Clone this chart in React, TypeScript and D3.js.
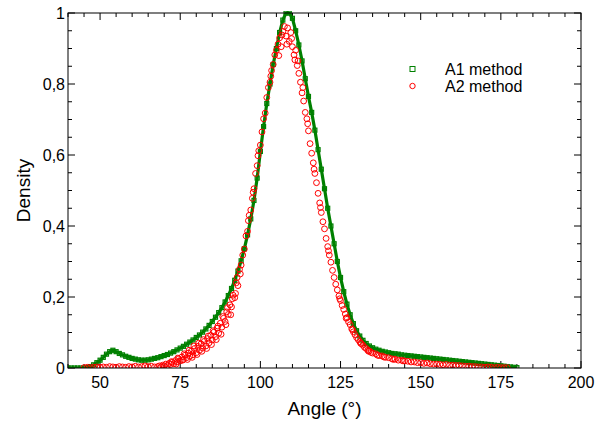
import React from "react";
import * as d3 from "d3";

const xTicks = [50, 75, 100, 125, 150, 175, 200];
const yTicks = [0, 0.2, 0.4, 0.6, 0.8, 1];
const yTickLabels = ["0", "0,2", "0,4", "0,6", "0,8", "1"];
const seriesNames = ["A1 method", "A2 method"];

// A1 method (green line with square markers)
const a1Angle = [
  40, 41, 42, 43, 44, 45, 46, 47, 48, 49, 50, 51, 52, 53, 54, 55, 56, 57, 58, 59,
  60, 61, 62, 63, 64, 65, 66, 67, 68, 69, 70, 71, 72, 73, 74, 75, 76, 77, 78, 79,
  80, 81, 82, 83, 84, 85, 86, 87, 88, 89, 90, 91, 92, 93, 94, 95, 96, 97, 98, 99,
  100, 101, 102, 103, 104, 105, 106, 107, 108, 109, 110, 111, 112, 113, 114, 115, 116, 117, 118, 119,
  120, 121, 122, 123, 124, 125, 126, 127, 128, 129, 130, 131, 132, 133, 134, 135, 136, 137, 138, 139,
  140, 141, 142, 143, 144, 145, 146, 147, 148, 149, 150, 151, 152, 153, 154, 155, 156, 157, 158, 159,
  160, 161, 162, 163, 164, 165, 166, 167, 168, 169, 170, 171, 172, 173, 174, 175, 176, 177, 178, 179, 180,
];
const a1Density = [
  0, 0, 0, 0, 0, 0, 0.001, 0.004, 0.009, 0.015, 0.022, 0.030, 0.039, 0.046, 0.050, 0.046, 0.041, 0.037, 0.033, 0.030,
  0.027, 0.025, 0.023, 0.022, 0.022, 0.023, 0.025, 0.027, 0.029, 0.032, 0.035, 0.038, 0.042, 0.046, 0.051, 0.056, 0.061, 0.067, 0.073, 0.079,
  0.086, 0.093, 0.101, 0.110, 0.120, 0.131, 0.143, 0.156, 0.170, 0.186, 0.204, 0.224, 0.247, 0.273, 0.302, 0.336, 0.375, 0.420, 0.472, 0.535,
  0.610, 0.680, 0.745, 0.800, 0.855, 0.900, 0.945, 0.980, 1.0, 1.0, 0.985, 0.950, 0.910, 0.865, 0.815, 0.765, 0.720, 0.670, 0.615, 0.560,
  0.505, 0.450, 0.400, 0.350, 0.300, 0.255, 0.215, 0.180, 0.150, 0.125, 0.105, 0.090, 0.078, 0.069, 0.062, 0.057, 0.053, 0.050, 0.047, 0.045,
  0.043, 0.041, 0.040, 0.039, 0.037, 0.036, 0.035, 0.034, 0.033, 0.032, 0.031, 0.030, 0.029, 0.028, 0.027, 0.026, 0.025, 0.024, 0.023, 0.022,
  0.021, 0.020, 0.019, 0.018, 0.017, 0.016, 0.015, 0.014, 0.013, 0.012, 0.011, 0.010, 0.009, 0.008, 0.007, 0.006, 0.005, 0.004, 0.003, 0.002, 0.001,
];

// A2 method (red open circles)
const a2Angle = [
  45, 46, 47, 48, 49, 50, 51, 52, 53, 54, 55, 56, 57, 58, 59, 60, 61, 62, 63, 64, 65, 66, 67,
  68, 68.5, 69, 69.5, 70, 70.5, 71, 71.5, 72, 72.5, 73, 73.5, 74, 74.5, 75, 75.5, 76, 76.5, 77, 77.5,
  78, 78.5, 79, 79.5, 80, 80.5, 81, 81.5, 82, 82.5, 83, 83.5, 84, 84.5, 85, 85.5, 86, 86.5, 87, 87.5,
  88, 88.5, 89, 89.5, 90, 90.5, 91, 91.5, 92, 92.5, 93, 93.5, 94, 94.5, 95, 95.5, 96, 96.5, 97, 97.5,
  98, 98.5, 99, 99.5, 100, 100.5, 101, 101.5, 102, 102.5, 103, 103.5, 104, 104.5, 105, 105.5, 106, 106.5, 107, 107.5,
  108, 108.5, 109, 109.5, 110, 110.5, 111, 111.5, 112, 112.5, 113, 113.5, 114, 114.5, 115, 115.5, 116, 116.5, 117, 117.5,
  118, 118.5, 119, 119.5, 120, 120.5, 121, 121.5, 122, 122.5, 123, 123.5, 124, 124.5, 125, 125.5, 126, 126.5, 127, 127.5,
  128, 128.5, 129, 129.5, 130, 130.5, 131, 131.5, 132, 132.5, 133, 133.5, 134, 134.5, 135,
  136, 137, 138, 139, 140, 141, 142, 143, 144, 145, 146, 147, 148, 149, 150, 151, 152, 153, 154, 155,
  156, 157, 158, 159, 160, 161, 162, 163, 164, 165, 166, 167, 168, 169, 170, 171, 172, 173, 174, 175, 176, 177,
];
const a2Density = [
  0.001, 0.002, 0.001, 0.002, 0.003, 0.002, 0.003, 0.002, 0.004, 0.003, 0.002, 0.004, 0.003, 0.002, 0.004, 0.003, 0.005, 0.003, 0.004, 0.006, 0.004, 0.005, 0.003,
  0.004, 0.006, 0.003, 0.008, 0.006, 0.011, 0.007, 0.013, 0.010, 0.016, 0.012, 0.021, 0.017, 0.026, 0.020, 0.031, 0.024, 0.036, 0.029, 0.042,
  0.033, 0.048, 0.037, 0.055, 0.043, 0.061, 0.050, 0.068, 0.056, 0.075, 0.062, 0.083, 0.071, 0.092, 0.079, 0.101, 0.088, 0.112, 0.098, 0.126,
  0.115, 0.140, 0.131, 0.158, 0.151, 0.178, 0.172, 0.205, 0.198, 0.240, 0.232, 0.278, 0.290, 0.318, 0.335, 0.372, 0.385, 0.430, 0.445, 0.478,
  0.505, 0.548, 0.570, 0.612, 0.628, 0.665, 0.702, 0.718, 0.762, 0.790, 0.805, 0.838, 0.855, 0.882, 0.895, 0.912, 0.930, 0.905, 0.948, 0.962,
  0.935, 0.958, 0.920, 0.945, 0.905, 0.882, 0.895, 0.852, 0.830, 0.805, 0.775, 0.752, 0.720, 0.702, 0.668, 0.632, 0.605, 0.578, 0.548, 0.522,
  0.492, 0.465, 0.438, 0.412, 0.392, 0.365, 0.342, 0.318, 0.298, 0.275, 0.255, 0.236, 0.220, 0.203, 0.190, 0.176, 0.165, 0.152, 0.142, 0.130,
  0.122, 0.110, 0.102, 0.094, 0.086, 0.080, 0.074, 0.068, 0.064, 0.058, 0.055, 0.050, 0.048, 0.044, 0.042,
  0.040, 0.035, 0.034, 0.030, 0.029, 0.026, 0.025, 0.022, 0.022, 0.020, 0.019, 0.017, 0.017, 0.015, 0.015, 0.013, 0.014, 0.012, 0.011, 0.011,
  0.010, 0.009, 0.010, 0.008, 0.008, 0.007, 0.007, 0.006, 0.005, 0.005, 0.004, 0.004, 0.003, 0.003, 0.002, 0.003, 0.002, 0.001, 0.002, 0.001, 0.001, 0.001,
];

// A2 method, additional scattered samples
const a2ExtraAngle = [
  72.25, 73.75, 74.25, 75.75, 76.25, 77.25, 77.75, 78.75, 79.25, 80.25, 80.75, 81.75, 82.25, 83.25, 83.75, 84.75,
  85.25, 86.25, 86.75, 87.75, 88.25, 89.25, 89.75, 90.75, 91.25, 92.25, 92.75, 93.75, 96.25, 97.75, 99.25, 103.25,
  105.75, 106.75, 108.25, 109.75, 110.75, 111.75, 113.25, 114.75, 116.75, 118.75, 121.25, 124.75, 126.75, 128.75,
  131.25, 133.75, 136.5, 138.5, 141.5, 144.5,
];
const a2ExtraDensity = [
  0.018, 0.011, 0.028, 0.022, 0.040, 0.024, 0.050, 0.030, 0.062, 0.038, 0.070, 0.047, 0.080, 0.055, 0.090, 0.066,
  0.105, 0.080, 0.118, 0.095, 0.145, 0.122, 0.170, 0.150, 0.195, 0.210, 0.255, 0.265, 0.415, 0.495, 0.598, 0.822,
  0.880, 0.938, 0.912, 0.928, 0.868, 0.865, 0.790, 0.688, 0.560, 0.452, 0.330, 0.195, 0.140, 0.108,
  0.070, 0.047, 0.036, 0.031, 0.024, 0.020,
];

const W = 595;
const H = 424;
const M = { left: 68, right: 581, top: 13, bottom: 368 };
const GREEN = "#008000";
const RED = "#ff0000";
const FONT = "'Liberation Sans', Arial, sans-serif";

export default function App() {
  const x = d3.scaleLinear().domain([40, 200]).range([M.left, M.right]);
  const y = d3.scaleLinear().domain([0, 1]).range([M.bottom, M.top]);

  const green = a1Angle.map((a, i) => [a, a1Density[i]] as [number, number]);
  const red = a2Angle
    .map((a, i) => [a, a2Density[i]] as [number, number])
    .concat(a2ExtraAngle.map((a, i) => [a, a2ExtraDensity[i]] as [number, number]));
  const line = d3
    .line<[number, number]>()
    .x((d) => x(d[0]))
    .y((d) => y(d[1]));

  const xMinor = d3.range(40, 201, 5);
  const yMinor = d3.range(0, 1.0001, 0.05);

  const majorLen = 7;
  const minorLen = 4;

  return (
    <svg
      width={W}
      height={H}
      style={{ position: "absolute", left: 0, top: 0, background: "#fff" }}
      fontFamily={FONT}
    >
      <defs>
        <clipPath id="plot">
          <rect x={M.left} y={M.top - 2} width={M.right - M.left} height={M.bottom - M.top + 2} />
        </clipPath>
      </defs>
      <rect x={0} y={0} width={W} height={H} fill="#fff" />

      {/* ticks */}
      <g stroke="#000" strokeWidth={1}>
        {xMinor.map((v) => {
          const len = v % 25 === 0 ? majorLen : minorLen;
          return (
            <g key={"xt" + v}>
              <line x1={x(v)} x2={x(v)} y1={M.bottom} y2={M.bottom - len} />
              <line x1={x(v)} x2={x(v)} y1={M.top} y2={M.top + len} />
            </g>
          );
        })}
        {yMinor.map((v, i) => {
          const len = i % 4 === 0 ? majorLen : minorLen;
          return (
            <g key={"yt" + i}>
              <line x1={M.left} x2={M.left + len} y1={y(v)} y2={y(v)} />
              <line x1={M.right} x2={M.right - len} y1={y(v)} y2={y(v)} />
            </g>
          );
        })}
      </g>

      {/* data */}
      <g clipPath="url(#plot)">
        <path d={line(green) || ""} fill="none" stroke={GREEN} strokeWidth={3.2} strokeLinejoin="round" />
        {green.map((d, i) => (
          <rect
            key={"g" + i}
            x={x(d[0]) - 2}
            y={y(d[1]) - 2}
            width={4}
            height={4}
            fill="none"
            stroke={GREEN}
            strokeWidth={1.2}
          />
        ))}
        {red.map((d, i) => (
          <circle
            key={"r" + i}
            cx={x(d[0])}
            cy={y(d[1])}
            r={2.9}
            fill="none"
            stroke={RED}
            strokeWidth={1}
          />
        ))}
      </g>

      {/* frame */}
      <rect
        x={M.left}
        y={M.top}
        width={M.right - M.left}
        height={M.bottom - M.top}
        fill="none"
        stroke="#000"
        strokeWidth={1}
      />

      {/* tick labels */}
      <g fontSize={16} fill="#000">
        {xTicks.map((v) => (
          <text key={"xl" + v} x={x(v)} y={M.bottom + 20} textAnchor="middle">
            {v}
          </text>
        ))}
        {yTicks.map((v, i) => (
          <text key={"yl" + i} x={M.left - 3} y={y(v) + 6} textAnchor="end">
            {yTickLabels[i]}
          </text>
        ))}
      </g>

      {/* axis titles */}
      <text x={(M.left + M.right) / 2} y={415} textAnchor="middle" fontSize={19} fill="#000">
        Angle (°)
      </text>
      <text
        transform={`translate(30, ${(M.top + M.bottom) / 2}) rotate(-90)`}
        textAnchor="middle"
        fontSize={19}
        fill="#000"
      >
        Density
      </text>

      {/* legend */}
      <g fontSize={16} fill="#000">
        <rect x={410} y={66.5} width={5} height={5} fill="none" stroke={GREEN} strokeWidth={1} />
        <text x={445} y={74.5}>{seriesNames[0]}</text>
        <circle cx={412.5} cy={86} r={2.7} fill="none" stroke={RED} strokeWidth={1} />
        <text x={445} y={92}>{seriesNames[1]}</text>
      </g>
    </svg>
  );
}
